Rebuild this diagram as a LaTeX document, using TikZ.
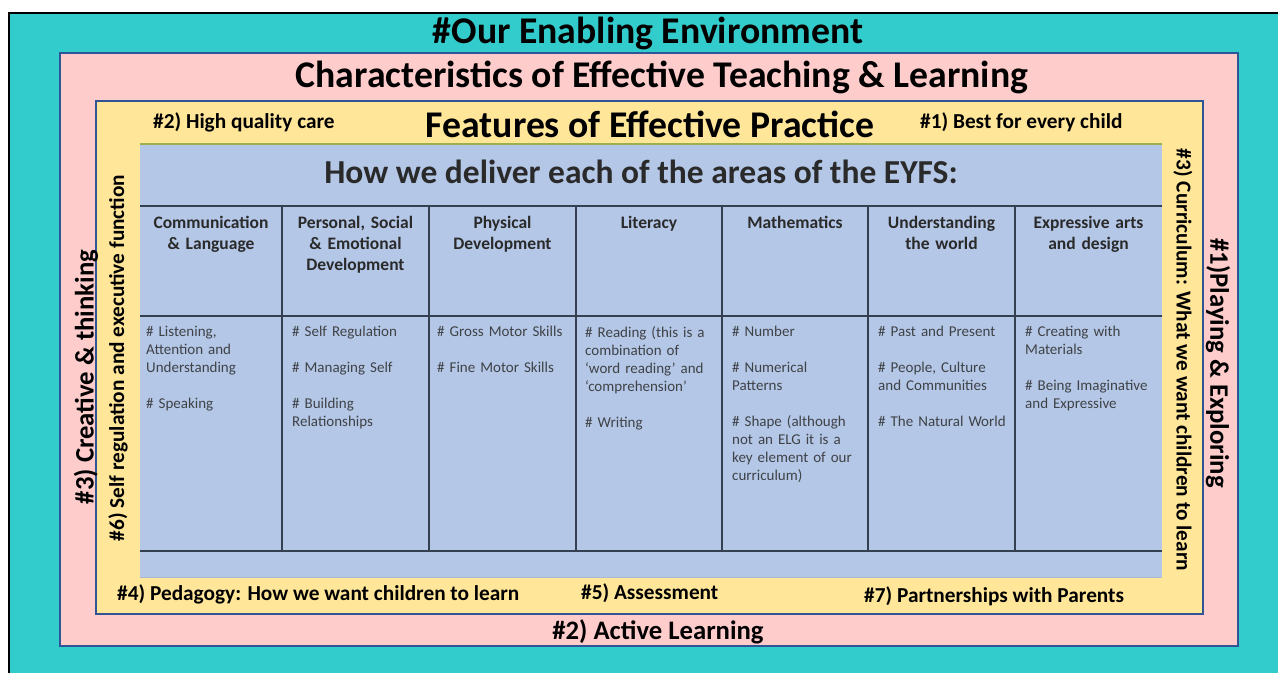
\documentclass[tikz,border=0pt]{standalone}
\usepackage{fontspec}
\setmainfont{Carlito}
\usetikzlibrary{positioning}

\definecolor{envteal}{HTML}{33CCCC}
\definecolor{charpink}{HTML}{FFCCCC}
\definecolor{featyellow}{HTML}{FFE699}
\definecolor{eyfsblue}{HTML}{B4C7E7}
\definecolor{frameblue}{HTML}{2F5597}
\definecolor{ruleolive}{HTML}{9BAF4A}
\definecolor{gridline}{HTML}{34404F}
\definecolor{celltext}{HTML}{2A2A2A}

\tikzset{
  bigtitle/.style={font=\bfseries\fontsize{37.7}{40}\selectfont, inner sep=0pt},
  sidelabel/.style={font=\bfseries\fontsize{21.3}{23}\selectfont, inner sep=0pt},
  midlabel/.style={font=\bfseries\fontsize{26.7}{28}\selectfont, inner sep=0pt},
  areahead/.style={font=\bfseries\fontsize{17.5}{21}\selectfont, text=celltext,
    align=center, text width=140pt, anchor=north, inner sep=0pt},
  areaitems/.style={font=\fontsize{15}{18}\selectfont, text=celltext!85!eyfsblue,
    align=left, text width=138pt, anchor=north west, inner sep=0pt},
}

\begin{document}
\begin{tikzpicture}[x=1pt,y=-1pt]
\useasboundingbox (0,0) rectangle (1278,673);
\fill[white] (0,0) rectangle (1278,673);
% outer frame
\fill[envteal] (9,13) rectangle (1278,673);
\draw[line width=1.6pt] (9,673) -- (9,13) -- (1278,13);
\filldraw[fill=charpink, draw=frameblue, line width=2.2pt] (60,53) rectangle (1238,646);
\filldraw[fill=featyellow, draw=frameblue, line width=2.2pt] (96,101) rectangle (1203,614);

% the EYFS table
\fill[eyfsblue] (140,144) rectangle (1162,578);
\draw[ruleolive, line width=2pt] (140,144) -- (1162,144);
\draw[eyfsblue!80!gray, line width=1pt] (140,577) -- (1162,577);
\draw[gridline, line width=1.1pt] (140,206) -- (1162,206)
      (140,316) -- (1162,316) (140,551) -- (1162,551);
\foreach \x in {282,429,576,722,868,1015}
  \draw[gridline, line width=1.1pt] (\x,206) -- (\x,551);

% titles of the frames
\node[bigtitle] (env) at (648,33) {\#Our Enabling Environment};
\node[bigtitle] (ctl) at (662,77) {Characteristics of Effective Teaching \& Learning};
\node[bigtitle] (fep) at (650,124) {Features of Effective Practice};
\node[sidelabel, anchor=west] (care) at (153,122) {\#2) High quality care};
\node[sidelabel, anchor=west] (best) at (920,122) {\#1) Best for every child};
\node[font=\bfseries\fontsize{33.5}{35}\selectfont, text=celltext, inner sep=0pt]
  (eyfs) at (641,172) {How we deliver each of the areas of the EYFS:};

% area headings
\node[areahead] (hdra) at (211,216) {Communication\\\& Language};
\node[areahead] (hdrb) at (355.5,216) {Personal, Social\\\& Emotional\\Development};
\node[areahead] (hdrc) at (502.5,216) {Physical\\Development};
\node[areahead] (hdrd) at (649,216) {Literacy};
\node[areahead] (hdre) at (795,216) {Mathematics};
\node[areahead] (hdrf) at (941.5,216) {Understanding\\the world};
\node[areahead] (hdrg) at (1088.5,216) {Expressive arts\\and design};

% what each area covers
\node[areaitems] (itema) at (146,326) {\# Listening,\\Attention and\\Understanding\\[18pt]\# Speaking};
\node[areaitems] (itemb) at (292,326) {\# Self Regulation\\[18pt]\# Managing Self\\[18pt]\# Building\\Relationships};
\node[areaitems] (itemc) at (437,326) {\# Gross Motor Skills\\[18pt]\# Fine Motor Skills};
\node[areaitems] (itemd) at (585,326) {\# Reading (this is a\\combination of\\`word reading' and\\`comprehension'\\[18pt]\# Writing};
\node[areaitems] (iteme) at (732,326) {\# Number\\[18pt]\# Numerical\\Patterns\\[18pt]\# Shape (although\\not an ELG it is a\\key element of our\\curriculum)};
\node[areaitems] (itemf) at (878,326) {\# Past and Present\\[18pt]\# People, Culture\\and Communities\\[18pt]\# The Natural World};
\node[areaitems] (itemg) at (1025,326) {\# Creating with\\Materials\\[18pt]\# Being Imaginative\\and Expressive};

% labels round the sides
\node[midlabel, rotate=90] (creative) at (86,377) {\#3) Creative \& thinking};
\node[sidelabel, rotate=90] (selfreg) at (118,358) {\#6) Self regulation and executive function};
\node[sidelabel, rotate=-90] (curriculum) at (1183,360) {\#3) Curriculum: What we want children to learn};
\node[midlabel, rotate=-90] (playing) at (1218,363) {\#1)Playing \& Exploring};
\node[sidelabel, anchor=west] (pedagogy) at (117,594) {\#4) Pedagogy: How we want children to learn};
\node[sidelabel, anchor=west] (assess) at (581,593) {\#5) Assessment};
\node[sidelabel, anchor=west] (parents) at (864,596) {\#7) Partnerships with Parents};
\node[midlabel] (active) at (658,632) {\#2) Active Learning};
\end{tikzpicture}
\end{document}
